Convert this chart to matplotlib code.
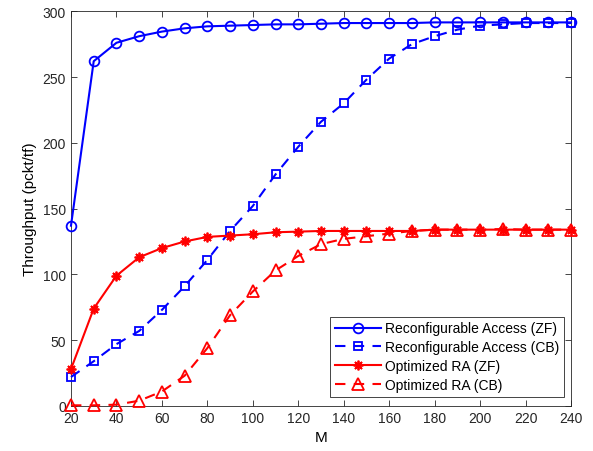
import matplotlib
matplotlib.use("Agg")
import matplotlib.pyplot as plt
import numpy as np

# ── data ──────────────────────────────────────────────────────────────────────
M = list(range(20, 250, 10))

ra_zf = [137, 262, 276, 281, 284.5, 287, 288.5, 289, 289.5, 290, 290, 290.5,
         291, 291, 291, 291, 291.5, 291.5, 291.5, 291.5, 291.5, 291.5, 291.5]
ra_cb = [22, 34, 47, 57, 73, 91, 111, 133, 152, 176, 197, 216,
         230, 248, 264, 275, 281, 286, 289, 290, 291, 291, 291]
ora_zf = [28, 74, 99, 113, 120, 125, 128.5, 129.5, 130.5, 132, 132.5, 133,
          133, 133, 133, 133, 134, 134, 134, 134, 134, 134, 134]
ora_cb = [0.5, 0.5, 1, 4, 11, 23, 44, 69, 87, 103, 114, 123,
          127, 129, 131, 133, 134, 134, 134, 134.5, 134, 134, 134]

labels = ["Reconfigurable Access (ZF)", "Reconfigurable Access (CB)",
          "Optimized RA (ZF)", "Optimized RA (CB)"]

# ── style ─────────────────────────────────────────────────────────────────────
plt.rcParams.update({
    "font.family": ["Liberation Sans", "DejaVu Sans"],
    "font.size": 10,
    "axes.edgecolor": "#262626",
    "xtick.color": "#262626",
    "ytick.color": "#262626",
    "xtick.direction": "in",
    "ytick.direction": "in",
    "xtick.top": True,
    "ytick.right": True,
})

fig = plt.figure(figsize=(5.93, 4.52), dpi=100)
ax = fig.add_axes([0.1197, 0.0996, 0.8433, 0.8734])

common = dict(lw=1.5, mew=1.3, clip_on=False, zorder=3)
ax.plot(M, ra_zf, color="blue", ls="-", marker="o", ms=7,
        mfc="none", label=labels[0], **common)
ax.plot(M, ra_cb, color="blue", ls=(0, (5, 4)), marker="s", ms=6,
        mfc="none", label=labels[1], **common)
ax.plot(M, ora_zf, color="red", ls="-", marker=(8, 2, 0), ms=7,
        label=labels[2], **common)
ax.plot(M, ora_cb, color="red", ls=(0, (5, 4)), marker="^", ms=8,
        mfc="none", label=labels[3], **common)

ax.set_xlim(20, 240)
ax.set_ylim(0, 300)
ax.set_xticks(np.arange(20, 241, 20))
ax.set_yticks(np.arange(0, 301, 50))
ax.tick_params(length=4, width=0.6, labelsize=10)
for s in ax.spines.values():
    s.set_linewidth(0.6)

ax.set_xlabel("M", fontsize=11)
ax.set_ylabel("Throughput (pckt/tf)", fontsize=11)

leg = ax.legend(loc="lower right", fontsize=10, fancybox=False, framealpha=1,
                edgecolor="#262626", handlelength=3.3, borderpad=0.35,
                labelspacing=0.35, handletextpad=0.3, borderaxespad=0,
                bbox_to_anchor=(0.986, 0.023))
leg.get_frame().set_linewidth(0.6)
leg.set_zorder(5)

fig.savefig("out.png", dpi=100)
